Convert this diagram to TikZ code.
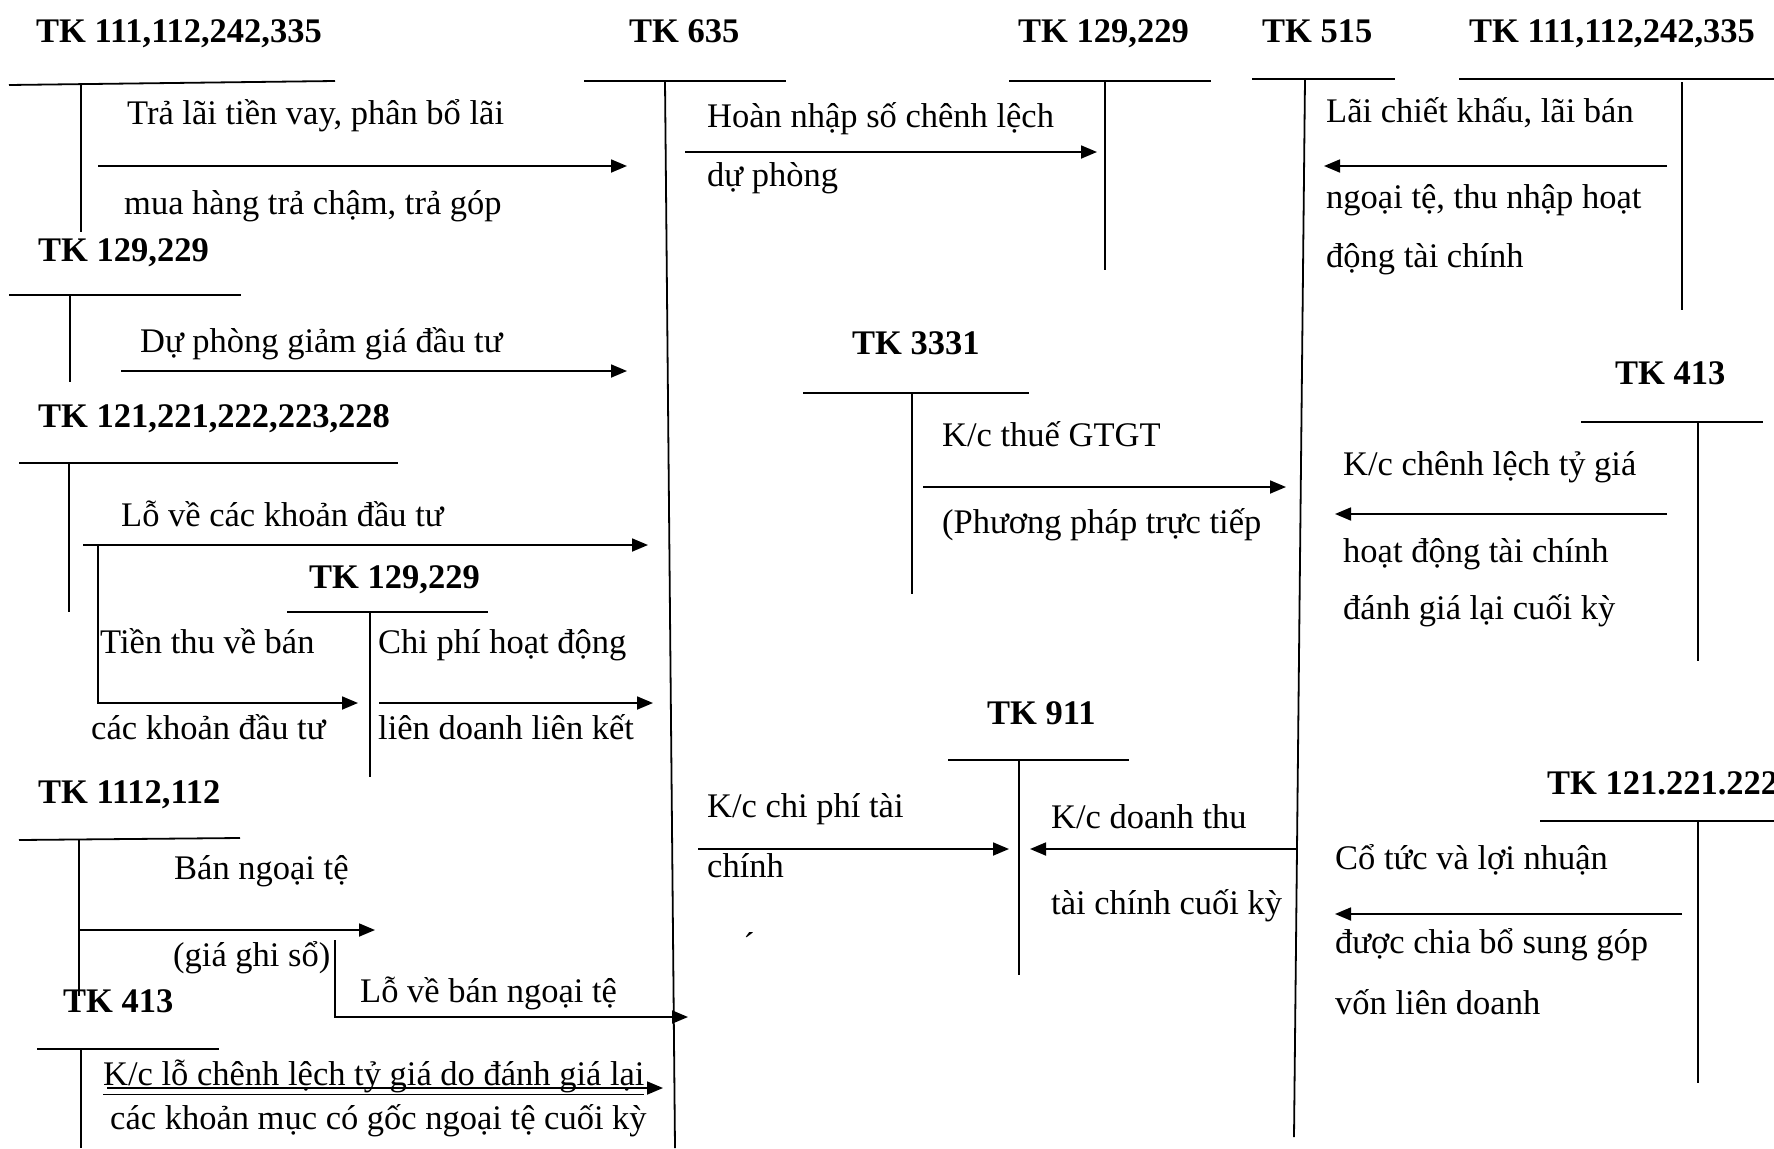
\documentclass[tikz,border=0pt]{standalone}
\usepackage{fontspec}
\setmainfont{Liberation Serif}
\usetikzlibrary{arrows.meta}
\begin{document}
\begin{tikzpicture}[x=1pt,y=-1pt,
  every node/.style={inner sep=0pt, anchor=base west, font=\fontsize{34.5}{40}\selectfont},
  ttl/.style={font=\fontsize{34.5}{40}\selectfont\bfseries},
  tline/.style={line width=1.8pt},
  arr/.style={line width=1.8pt, -{Triangle[length=16pt,width=13pt]}},
]
\useasboundingbox[fill=white] (0,0) rectangle (1774,1148);

% ---------- titles ----------
\node[ttl] (t1)  at (36,43)    {TK 111,112,242,335};
\node[ttl] (t2)  at (38,261)   {TK 129,229};
\node[ttl] (t3)  at (38,427)   {TK 121,221,222,223,228};
\node[ttl] (t4)  at (309,588)  {TK 129,229};
\node[ttl] (t5)  at (38,803)   {TK 1112,112};
\node[ttl] (t6)  at (63,1012)  {TK 413};
\node[ttl] (t7)  at (629,43)   {TK 635};
\node[ttl] (t8)  at (1018,43)  {TK 129,229};
\node[ttl] (t9)  at (852,354)  {TK 3331};
\node[ttl] (t10) at (987,724)  {TK 911};
\node[ttl] (t11) at (1262,43)  {TK 515};
\node[ttl] (t12) at (1469,43)  {TK 111,112,242,335};
\node[ttl] (t13) at (1615,384) {TK 413};
\node[ttl] (t14) at (1547,794) {TK 121.221.222};

% ---------- T-account lines ----------
\draw[tline] (9,85) -- (335,81);     \draw[tline] (81,85) -- (81,232);
\draw[tline] (9,295) -- (241,295);   \draw[tline] (70,295) -- (70,382);
\draw[tline] (19,463) -- (398,463);  \draw[tline] (69,463) -- (69,612);
\draw[tline] (287,612) -- (488,612); \draw[tline] (370,612) -- (370,777);
\draw[tline] (19,840) -- (240,838);  \draw[tline] (79,840) -- (79,996);
\draw[tline] (37,1049) -- (219,1049);\draw[tline] (81,1049) -- (81,1148);
\draw[tline] (584,81) -- (786,81);   \draw[tline] (665,81) -- (675,1148);
\draw[tline] (1009,81) -- (1211,81); \draw[tline] (1105,81) -- (1105,270);
\draw[tline] (803,393) -- (1029,393);\draw[tline] (912,393) -- (912,594);
\draw[tline] (948,760) -- (1129,760);\draw[tline] (1019,760) -- (1019,975);
\draw[tline] (1252,79) -- (1395,79); \draw[tline] (1305,79) -- (1294,1137);
\draw[tline] (1459,79) -- (1774,79); \draw[tline] (1682,82) -- (1682,310);
\draw[tline] (1581,422) -- (1763,422);\draw[tline] (1698,422) -- (1698,661);
\draw[tline] (1540,821) -- (1774,821);\draw[tline] (1698,821) -- (1698,1083);

% ---------- texts ----------
\node (x1)  at (127,124)  {Trả lãi tiền vay, phân bổ lãi};
\node (x2)  at (124,214)  {mua hàng trả chậm, trả góp};
\node (x3)  at (140,352)  {Dự phòng giảm giá đầu tư};
\node (x4)  at (121,526)  {Lỗ về các khoản đầu tư};
\node (x5)  at (100,653)  {Tiền thu về bán};
\node (x6)  at (91,739)   {các khoản đầu tư};
\node (x7)  at (378,653)  {Chi phí hoạt động};
\node (x8)  at (378,739)  {liên doanh liên kết};
\node (x9)  at (174,879)  {Bán ngoại tệ};
\node (x10) at (173,966)  {(giá ghi sổ)};
\node (x11) at (360,1002) {Lỗ về bán ngoại tệ};
\node (x12) at (103,1085) {\underline{K/c lỗ chênh lệch tỷ giá do đánh giá lại}};
\node (x13) at (110,1129) {các khoản mục có gốc ngoại tệ cuối kỳ};
\node (x14) at (707,127)  {Hoàn nhập số chênh lệch};
\node (x15) at (707,186)  {dự phòng};
\node (x16) at (942,446)  {K/c thuế GTGT};
\node (x17) at (942,533)  {(Phương pháp trực tiếp};
\node (x18) at (707,817)  {K/c chi phí tài};
\node (x19) at (707,877)  {chính};
\node[anchor=center] (x20) at (749,944) {´};
\node (x21) at (1051,828) {K/c doanh thu};
\node (x22) at (1051,914) {tài chính cuối kỳ};
\node (x23) at (1326,122) {Lãi chiết khấu, lãi bán};
\node (x24) at (1326,208) {ngoại tệ, thu nhập hoạt};
\node (x25) at (1326,267) {động tài chính};
\node (x26) at (1343,475) {K/c chênh lệch tỷ giá};
\node (x27) at (1343,562) {hoạt động tài chính};
\node (x28) at (1343,619) {đánh giá lại cuối kỳ};
\node (x29) at (1335,869) {Cổ tức và lợi nhuận};
\node (x30) at (1335,953) {được chia bổ sung góp};
\node (x31) at (1335,1014){vốn liên doanh};

% ---------- arrow end points ----------
\coordinate (a1s) at (98,166);   \coordinate (a1e) at (627,166);
\coordinate (a2s) at (121,371);  \coordinate (a2e) at (627,371);
\coordinate (a3s) at (83,545);   \coordinate (a3e) at (648,545);
\coordinate (a4s) at (98,545);   \coordinate (a4e) at (358,703);
\coordinate (a5s) at (379,703);  \coordinate (a5e) at (653,703);
\coordinate (a6s) at (80,930);   \coordinate (a6e) at (375,930);
\coordinate (a7s) at (335,940);  \coordinate (a7e) at (688,1017);
\coordinate (a8s) at (107,1088); \coordinate (a8e) at (663,1088);
\coordinate (a9s) at (685,152);  \coordinate (a9e) at (1097,152);
\coordinate (a10s) at (923,487); \coordinate (a10e) at (1286,487);
\coordinate (a11s) at (698,849); \coordinate (a11e) at (1009,849);
\coordinate (a12s) at (1296,849);\coordinate (a12e) at (1030,849);
\coordinate (a13s) at (1667,166);\coordinate (a13e) at (1324,166);
\coordinate (a14s) at (1667,514);\coordinate (a14e) at (1335,514);
\coordinate (a15s) at (1682,914);\coordinate (a15e) at (1335,914);

% ---------- arrows ----------
\draw[arr] (a1s) -- (a1e);
\draw[arr] (a2s) -- (a2e);
\draw[arr] (a3s) -- (a3e);
\draw[arr] (a4s) |- (a4e);
\draw[arr] (a5s) -- (a5e);
\draw[arr] (a6s) -- (a6e);
\draw[arr] (a7s) |- (a7e);
\draw[arr] (a8s) -- (a8e);
\draw[arr] (a9s) -- (a9e);
\draw[arr] (a10s) -- (a10e);
\draw[arr] (a11s) -- (a11e);
\draw[arr] (a12s) -- (a12e);
\draw[arr] (a13s) -- (a13e);
\draw[arr] (a14s) -- (a14e);
\draw[arr] (a15s) -- (a15e);
\end{tikzpicture}
\end{document}
